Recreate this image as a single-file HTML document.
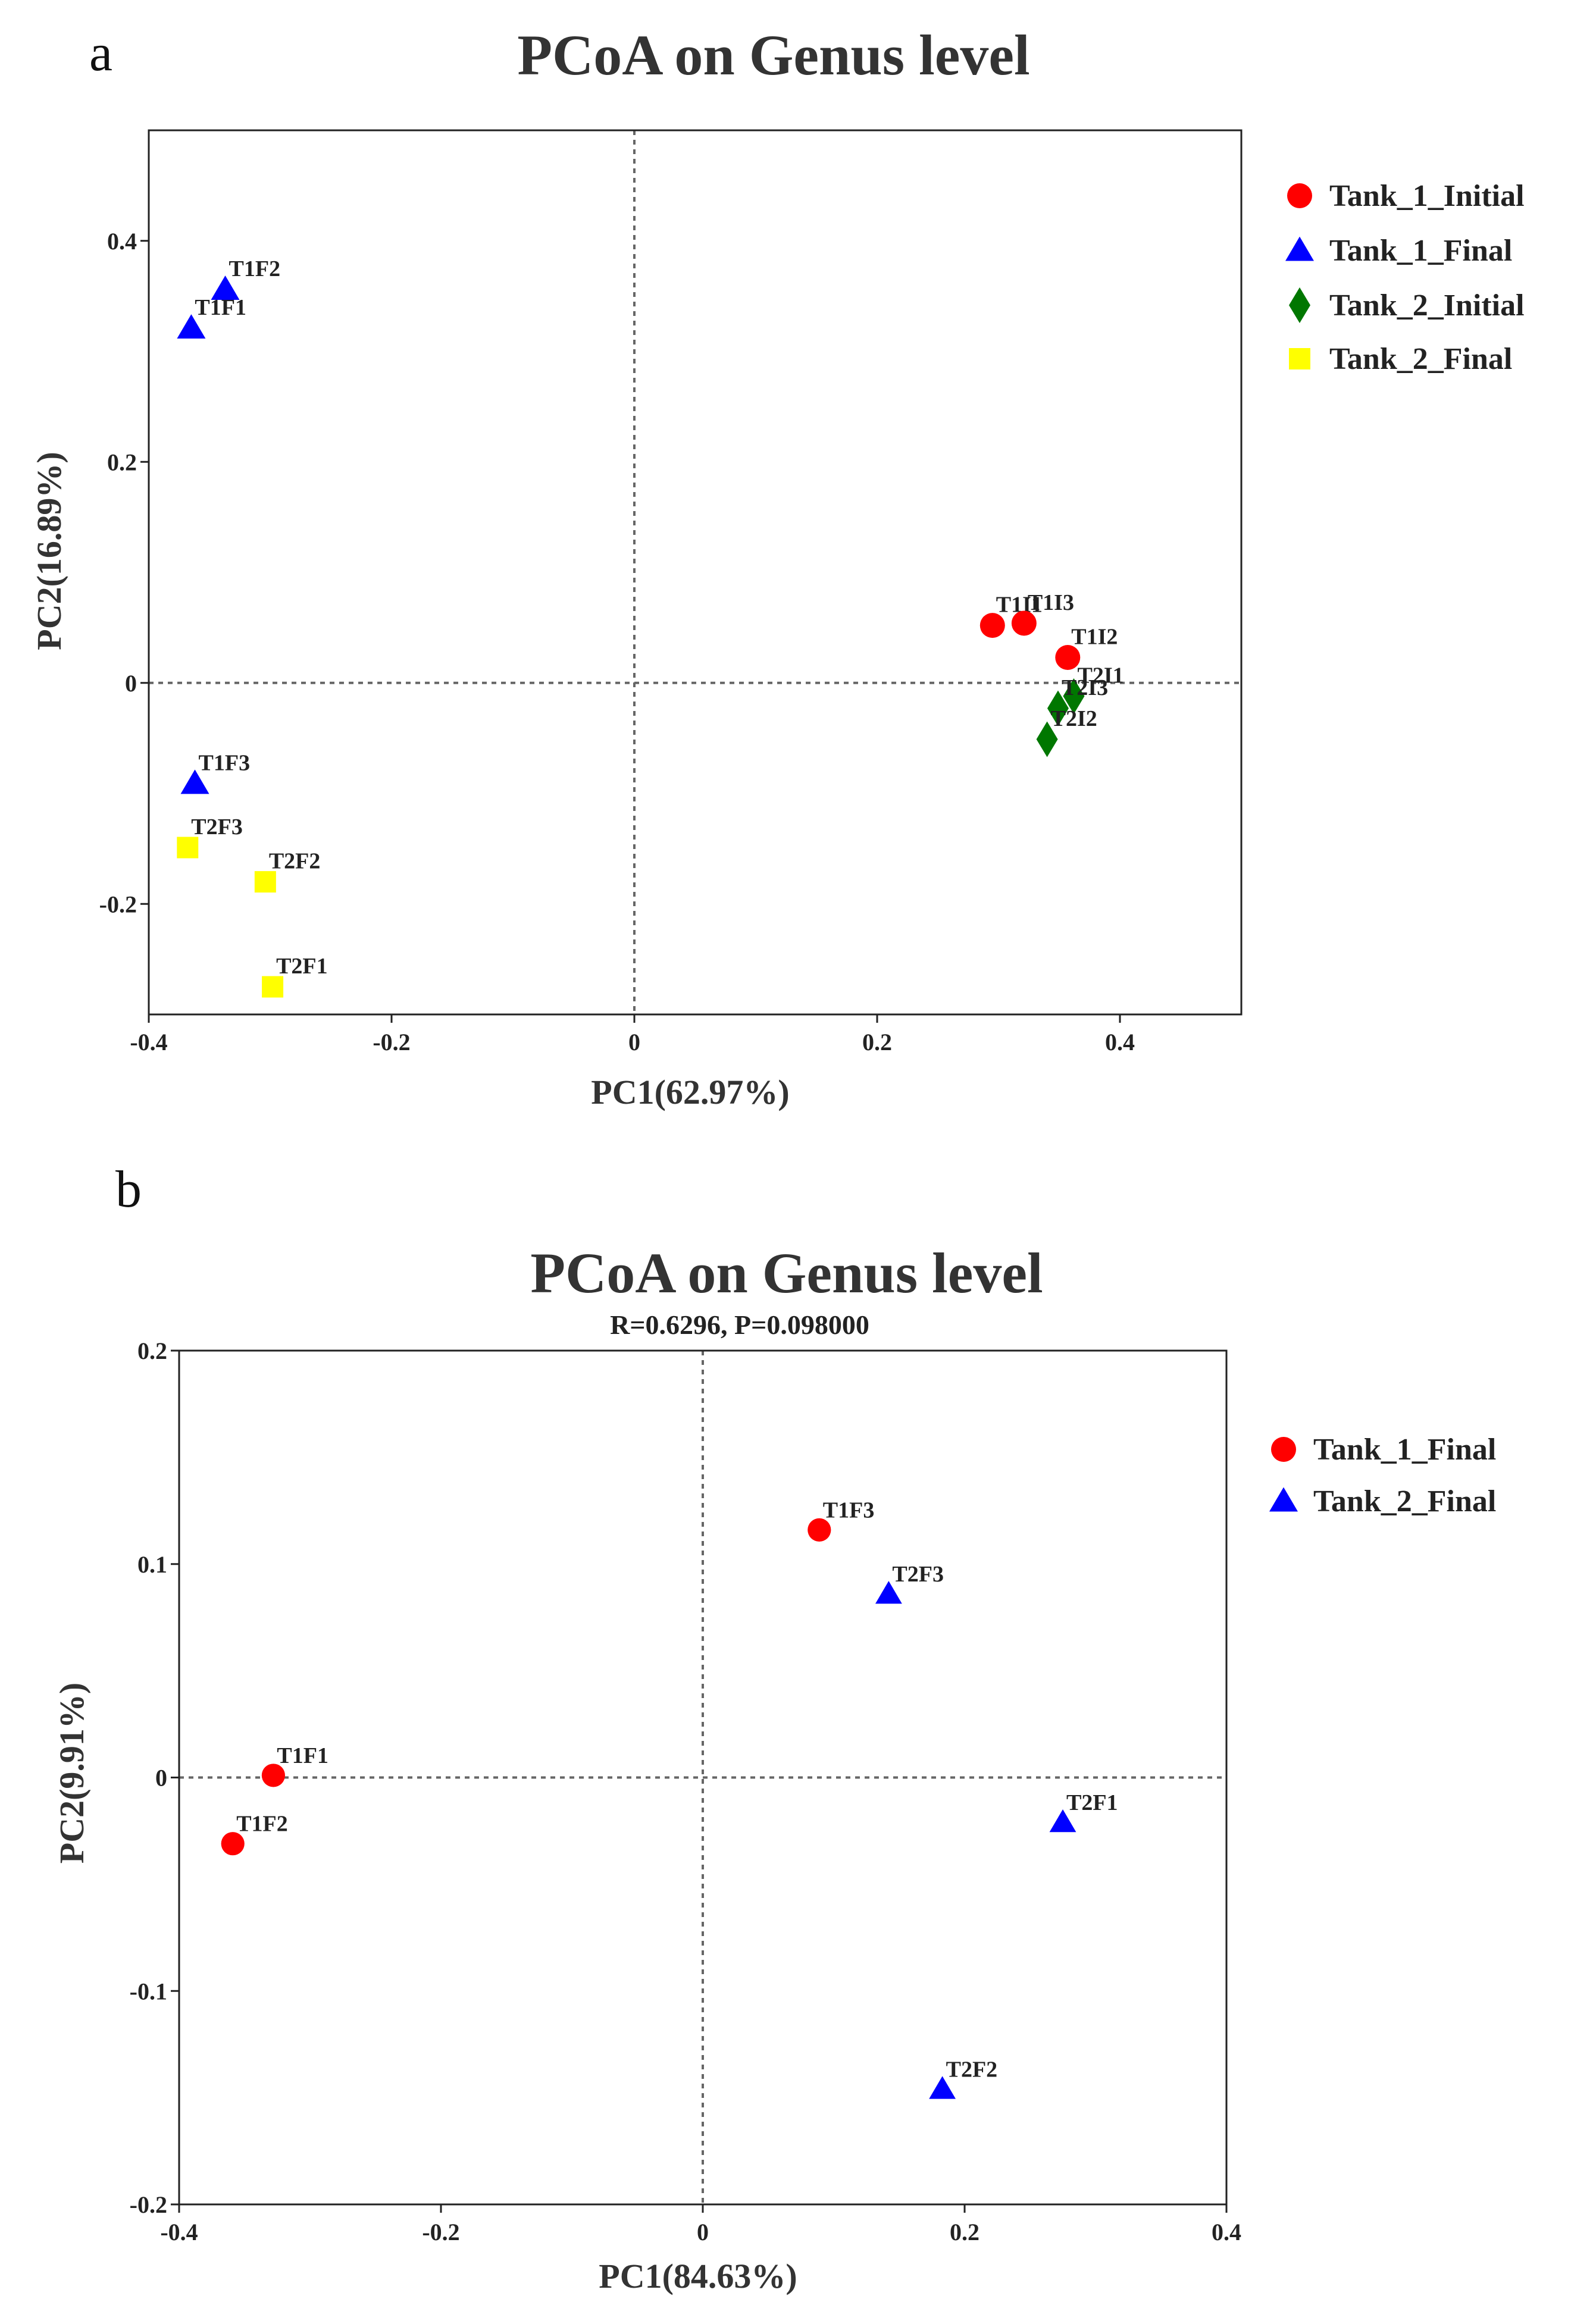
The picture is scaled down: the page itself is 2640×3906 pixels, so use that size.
<!DOCTYPE html>
<html><head><meta charset="utf-8"><style>
html,body{margin:0;padding:0;background:#fff}
svg{display:block}
text{font-family:"Liberation Serif",serif}
</style></head><body>
<svg id="fig" width="2640" height="3906" viewBox="0 0 2640 3906" xmlns="http://www.w3.org/2000/svg"></svg>
<script>
// ---- Chart a data ----
const aGroups = ["Tank_1_Initial","Tank_1_Final","Tank_2_Initial","Tank_2_Final"];
const aLabels = ["T1I1","T1I3","T1I2","T1F2","T1F1","T1F3","T2I1","T2I3","T2I2","T2F3","T2F2","T2F1"];
const aGroupIdx = [0,0,0,1,1,1,2,2,2,3,3,3];
const aPC1 = [0.295,0.321,0.357,-0.337,-0.365,-0.362,0.362,0.349,0.340,-0.368,-0.304,-0.298];
const aPC2 = [0.052,0.054,0.023,0.356,0.321,-0.091,-0.012,-0.023,-0.051,-0.149,-0.180,-0.275];
const aXTicks = [-0.4,-0.2,0,0.2,0.4];
const aYTicks = [-0.2,0,0.2,0.4];
// ---- Chart b data ----
const bGroups = ["Tank_1_Final","Tank_2_Final"];
const bLabels = ["T1F1","T1F2","T1F3","T2F3","T2F1","T2F2"];
const bGroupIdx = [0,0,0,1,1,1];
const bPC1 = [-0.328,-0.359,0.089,0.142,0.275,0.183];
const bPC2 = [0.001,-0.031,0.116,0.086,-0.021,-0.146];
const bXTicks = [-0.4,-0.2,0,0.2,0.4];
const bYTicks = [-0.2,-0.1,0,0.1,0.2];

const NS="http://www.w3.org/2000/svg";
const svg=document.getElementById('fig');
function mk(tag,attrs,parent,txt){const e=document.createElementNS(NS,tag);for(const k in attrs)e.setAttribute(k,attrs[k]);if(txt!==undefined)e.textContent=txt;(parent||svg).appendChild(e);return e;}
function fmt(v){if(Math.abs(v)<1e-9)return "0";let s=String(+v.toFixed(2));return s.replace(/^(-?)0\./,"$10.");}

function marker(g,shape,cx,cy,s){
  if(shape==='circle')return mk('circle',{cx:cx,cy:cy,r:s*0.7,fill:'#ff0000'},g);
  if(shape==='tri'){const h=s*1.3;return mk('polygon',{points:`${cx},${cy-h*0.6} ${cx-s*0.8},${cy+h*0.45} ${cx+s*0.8},${cy+h*0.45}`,fill:'#0000ff'},g);}
  if(shape==='dia')return mk('polygon',{points:`${cx},${cy-s} ${cx-s*0.6},${cy} ${cx},${cy+s} ${cx+s*0.6},${cy}`,fill:'#007700'},g);
  if(shape==='sq')return mk('rect',{x:cx-s*0.6,y:cy-s*0.6,width:s*1.2,height:s*1.2,fill:'#ffff00'},g);
}

function chart(cfg){
  const {L,R,T,B,xmin,xmax,ymin,ymax}=cfg;
  const X=v=>L+(v-xmin)/(xmax-xmin)*(R-L);
  const Y=v=>B-(v-ymin)/(ymax-ymin)*(B-T);
  const g=mk('g',{});
  
  
  // zero lines
  const zx=mk('line',{x1:X(0),x2:X(0),y1:T,y2:B,stroke:'#666','stroke-width':4,'stroke-dasharray':'8 8'},g);
  
  const zy=mk('line',{x1:L,x2:R,y1:Y(0),y2:Y(0),stroke:'#666','stroke-width':4,'stroke-dasharray':'8 8'},g);
  
  // frame
  const fr=mk('rect',{x:L,y:T,width:R-L,height:B-T,fill:'none',stroke:'#222','stroke-width':3},g);
  
  // ticks
  cfg.xt.forEach(v=>{
    mk('line',{x1:X(v),x2:X(v),y1:B,y2:B+14,stroke:'#222','stroke-width':3},g);
    const t=mk('text',{x:X(v),y:B+60,'text-anchor':'middle','font-size':40,'font-weight':'bold',fill:'#222'},g,fmt(v));
    
  });
  cfg.yt.forEach(v=>{
    mk('line',{x1:L-14,x2:L,y1:Y(v),y2:Y(v),stroke:'#222','stroke-width':3},g);
    const t=mk('text',{x:L-20,y:Y(v)+14,'text-anchor':'end','font-size':40,'font-weight':'bold',fill:'#222'},g,fmt(v));
    
  });
  // points
  cfg.px.forEach((v,i)=>{
    const cx=X(v),cy=Y(cfg.py[i]);
    const m=marker(g,cfg.shapes[cfg.gi[i]],cx,cy,cfg.ms);
    
    
    const t=mk('text',{x:cx+6,y:cy-cfg.ms*0.75,'font-size':38,'font-weight':'bold',fill:'#222'},g,cfg.labels[i]);
    
  });
  // legend
  cfg.groups.forEach((n,i)=>{
    const ly=cfg.legY[i];
    const m=marker(g,cfg.shapes[i],cfg.legX,ly,30);
    
    const t=mk('text',{x:cfg.legX+50,y:ly+17,'font-size':52,'font-weight':'bold',fill:'#222'},g,n);
    
  });
}

chart({name:'chart-a',L:250,R:2086,T:219,B:1705,xmin:-0.4,xmax:0.5,ymin:-0.3,ymax:0.5,
  xt:aXTicks,yt:aYTicks,px:aPC1,py:aPC2,gi:aGroupIdx,labels:aLabels,groups:aGroups,
  shapes:['circle','tri','dia','sq'],ms:30,legX:2184,legY:[329,421,513,603]});
chart({name:'chart-b',L:301,R:2061,T:2270,B:3705,xmin:-0.4,xmax:0.4,ymin:-0.2,ymax:0.2,
  xt:bXTicks,yt:bYTicks,px:bPC1,py:bPC2,gi:bGroupIdx,labels:bLabels,groups:bGroups,
  shapes:['circle','tri'],ms:28,legX:2157,legY:[2436,2523]});
</script>
<svg width="0" height="0"></svg>
<script>
const S=document.getElementById('fig');
function tx(attrs,txt,name){const e=document.createElementNS("http://www.w3.org/2000/svg",'text');for(const k in attrs)e.setAttribute(k,attrs[k]);e.textContent=txt;


S.appendChild(e);}
tx({x:150,y:118,'font-size':88,fill:'#111'},'a','panel-label-a');
tx({x:1300,y:125,'font-size':96,'font-weight':'bold','text-anchor':'middle',fill:'#333'},'PCoA on Genus level','chart-a-title');
tx({x:1160,y:1855,'font-size':58,'font-weight':'bold','text-anchor':'middle',fill:'#333'},'PC1(62.97%)','chart-a-x-axis-title');
tx({x:0,y:0,'font-size':58,'font-weight':'bold','text-anchor':'middle',fill:'#333',transform:'translate(102,926) rotate(-90)'},'PC2(16.89%)','chart-a-y-axis-title');
tx({x:194,y:2028,'font-size':88,fill:'#111'},'b','panel-label-b');
tx({x:1322,y:2172,'font-size':96,'font-weight':'bold','text-anchor':'middle',fill:'#333'},'PCoA on Genus level','chart-b-title');
tx({x:1243,y:2242,'font-size':46,'font-weight':'bold','text-anchor':'middle',fill:'#222'},'R=0.6296, P=0.098000','chart-b-subtitle');
tx({x:1173,y:3845,'font-size':58,'font-weight':'bold','text-anchor':'middle',fill:'#333'},'PC1(84.63%)','chart-b-x-axis-title');
tx({x:0,y:0,'font-size':58,'font-weight':'bold','text-anchor':'middle',fill:'#333',transform:'translate(140,2980) rotate(-90)'},'PC2(9.91%)','chart-b-y-axis-title');
</script>
</body></html>
